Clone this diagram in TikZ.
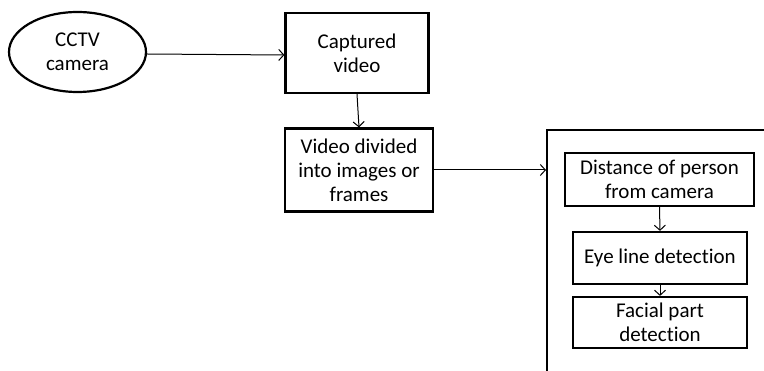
\documentclass[tikz,border=0pt]{standalone}
\usepackage{fontspec}
\setmainfont[Ligatures=NoCommon]{Carlito}
\usepackage{tikz}
\usetikzlibrary{shapes.geometric,arrows.meta}

\tikzset{
  stage/.style={draw, line width=2.2pt, align=center, inner sep=0pt},
  flow/.style={-{Straight Barb[length=5pt,width=11pt]}, line width=1pt}
}

\begin{document}
\begin{tikzpicture}[x=1pt,y=-1pt,font=\fontsize{21}{24}\selectfont]
\useasboundingbox (0,0) rectangle (764,371);
\clip (0,0) rectangle (764,371);
\node (cam) [stage, ellipse, minimum width=137pt, minimum height=80pt] at (77.5,52) {CCTV\\camera};
\node (cap) [stage, minimum width=143pt, minimum height=80pt] at (357,53) {Captured\\video};
\node (div) [stage, minimum width=148pt, minimum height=83pt] at (359,170) {Video divided\\into images or\\frames};
% outer box, runs off the page
\node (grp) [draw, line width=2.2pt, minimum width=300pt, minimum height=300pt, anchor=north west] at (546,129) {};
\node (dist) [stage, minimum width=189pt, minimum height=53pt] at (659.5,179.5) {Distance of person\\from camera};
\node (eye) [stage, minimum width=174pt, minimum height=52pt] at (660,258) {Eye line detection};
\node (face) [stage, minimum width=174pt, minimum height=51pt] at (660,322.5) {Facial part\\detection};

\draw [flow] ([yshift=-2pt]cam.east) -- ([yshift=-2pt]cap.west);
\draw [flow] (cap.south) -- (div.north);
\draw [flow] (div.east) -- (div.east -| grp.west);
\draw [flow] (dist.south) -- (eye.north);
\draw [flow] (eye.south) -- (face.north);
\end{tikzpicture}
\end{document}
